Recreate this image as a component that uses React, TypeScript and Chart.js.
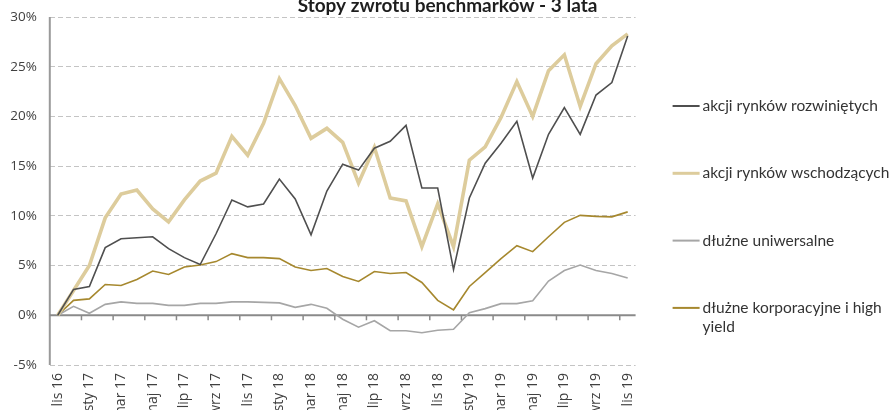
import React, { useEffect, useRef } from "react";
import { Chart, registerables } from "chart.js";

Chart.register(...registerables);

const monthNames = ["sty", "lut", "mar", "kwi", "maj", "cze", "lip", "sie", "wrz", "paź", "lis", "gru"];
const categories: string[] = [];
for (let k = 0; k < 37; k++) {
  const m = (10 + k) % 12;
  const y = 16 + Math.floor((10 + k) / 12);
  categories.push(`${monthNames[m]} ${y}`);
}

const title = "Stopy zwrotu benchmarków - 3 lata";
const seriesNames = [
  "akcji rynków rozwiniętych",
  "akcji rynków wschodzących",
  "dłużne uniwersalne",
  "dłużne korporacyjne i high yield",
];

const developed = [0, 2.6, 2.9, 6.8, 7.7, 7.8, 7.9, 6.7, 5.8, 5.1, 8.2, 11.6, 10.9, 11.2, 13.7, 11.7, 8.1, 12.5, 15.2, 14.6, 16.8, 17.5, 19.1, 12.8, 12.8, 4.6, 11.8, 15.3, 17.3, 19.5, 13.8, 18.2, 20.9, 18.2, 22.15, 23.4, 28.1];
const emerging = [0, 2.5, 5.0, 9.8, 12.2, 12.6, 10.7, 9.4, 11.6, 13.5, 14.3, 18.0, 16.1, 19.3, 23.8, 21.1, 17.8, 18.8, 17.4, 13.3, 16.9, 11.8, 11.5, 6.9, 11.2, 6.9, 15.6, 16.95, 19.9, 23.5, 20.0, 24.6, 26.2, 21.0, 25.3, 27.1, 28.3];
const universal = [0, 0.9, 0.2, 1.1, 1.35, 1.2, 1.2, 1.0, 1.0, 1.2, 1.2, 1.35, 1.35, 1.3, 1.25, 0.8, 1.1, 0.7, -0.4, -1.2, -0.55, -1.55, -1.55, -1.75, -1.5, -1.4, 0.27, 0.67, 1.17, 1.17, 1.45, 3.45, 4.5, 5.05, 4.5, 4.2, 3.75];
const corporate = [0, 1.5, 1.65, 3.1, 3.0, 3.6, 4.45, 4.1, 4.85, 5.05, 5.4, 6.2, 5.8, 5.8, 5.7, 4.85, 4.5, 4.7, 3.9, 3.4, 4.4, 4.2, 4.3, 3.3, 1.5, 0.55, 2.9, 4.3, 5.7, 7.0, 6.4, 7.9, 9.35, 10.05, 9.95, 9.9, 10.4];

const yTicks = [-5, 0, 5, 10, 15, 20, 25, 30];

const colors = ["#4f4f4f", "#ddcc9c", "#a6a6a6", "#a6882e"];
const widths = [1.6, 3.6, 1.6, 1.6];
const legendWidths = [2, 3, 2, 2];

const FONT = "Lato, 'Noto Sans', sans-serif";
const TICK_FONT = "'Open Sans', 'Noto Sans', sans-serif";

const decorPlugin = {
  id: "decor",
  beforeDatasetsDraw(chart: any) {
    const { ctx, chartArea, scales } = chart;
    const y0 = scales.y.getPixelForValue(0);
    ctx.save();
    ctx.strokeStyle = "#9a9a9a";
    ctx.lineWidth = 2;
    ctx.beginPath();
    ctx.moveTo(chartArea.left, chartArea.top);
    ctx.lineTo(chartArea.left, chartArea.bottom);
    ctx.stroke();
    ctx.strokeStyle = "#8a8a8a";
    ctx.lineWidth = 2;
    ctx.beginPath();
    ctx.moveTo(chartArea.left, y0);
    ctx.lineTo(chartArea.right, y0);
    ctx.stroke();
    ctx.lineWidth = 1.5;
    const n = chart.data.labels.length;
    for (let i = 2; i < n; i += 2) {
      const x = (scales.x.getPixelForValue(i - 1) + scales.x.getPixelForValue(i)) / 2;
      ctx.beginPath();
      ctx.moveTo(x, y0);
      ctx.lineTo(x, y0 + 5);
      ctx.stroke();
    }
    ctx.restore();
  },
  afterDraw(chart: any) {
    const { ctx, chartArea } = chart;
    ctx.save();
    ctx.fillStyle = "#1e1e1e";
    ctx.font = `bold 19px ${FONT}`;
    ctx.textAlign = "center";
    ctx.textBaseline = "alphabetic";
    ctx.fillText(title, chart.width / 2 + 2, 31.5);
    const lx0 = chartArea.right + 37;
    const lx1 = lx0 + 27;
    const tx = lx1 + 3;
    ctx.font = `15.5px ${FONT}`;
    ctx.textAlign = "left";
    ctx.textBaseline = "middle";
    chart.data.datasets.forEach((ds: any, i: number) => {
      const yc = chartArea.top + 89 + i * 67.3;
      ctx.strokeStyle = ds.borderColor;
      ctx.lineWidth = legendWidths[i];
      ctx.beginPath();
      ctx.moveTo(lx0, yc);
      ctx.lineTo(lx1, yc);
      ctx.stroke();
      ctx.fillStyle = "#333333";
      const words = String(ds.label).split(" ");
      const lines: string[] = [];
      let cur = "";
      for (const w of words) {
        const test = cur ? cur + " " + w : w;
        if (cur && ctx.measureText(test).width > 192) {
          lines.push(cur);
          cur = w;
        } else cur = test;
      }
      lines.push(cur);
      lines.forEach((ln, k) => ctx.fillText(ln, tx, yc + k * 19));
    });
    ctx.restore();
  },
};

export default function App() {
  const ref = useRef<HTMLCanvasElement | null>(null);
  useEffect(() => {
    if (!ref.current) return;
    const chart = new Chart(ref.current, {
      type: "line",
      data: {
        labels: categories,
        datasets: [developed, emerging, universal, corporate].map((d, i) => ({
          label: seriesNames[i],
          data: d,
          borderColor: colors[i],
          backgroundColor: colors[i],
          borderWidth: widths[i],
          pointRadius: 0,
          tension: 0,
          fill: false,
        })),
      },
      options: {
        responsive: false,
        animation: false,
        events: [],
        layout: { padding: { top: 37, left: 0, right: 255.4, bottom: 0 } },
        plugins: {
          legend: { display: false },
          title: { display: false },
          tooltip: { enabled: false },
        },
        scales: {
          x: {
            offset: true,
            grid: { display: false, drawTicks: false },
            border: { display: false },
            ticks: {
              autoSkip: false,
              minRotation: 90,
              maxRotation: 90,
              padding: 8,
              color: "#404040",
              font: { family: TICK_FONT, size: 14 },
              callback: (_v: any, idx: number) => (idx % 2 === 0 ? categories[idx] : null),
            },
            afterFit: (scale: any) => {
              scale.height = 65;
            },
          },
          y: {
            min: -5,
            max: 30,
            afterBuildTicks: (scale: any) => {
              scale.ticks = yTicks.map((v) => ({ value: v }));
            },
            grid: {
              drawTicks: false,
              color: (c: any) => (c.tick && c.tick.value === 0 ? "rgba(0,0,0,0)" : "#c4c4c4"),
              lineWidth: 1,
            },
            border: { display: false, dash: [5, 3] },
            ticks: {
              padding: 13,
              color: "#404040",
              font: { family: TICK_FONT, size: 13.5 },
              callback: (v: any) => `${v}%`,
            },
            afterFit: (scale: any) => {
              scale.width = 49.8;
            },
          },
        },
      },
      plugins: [decorPlugin],
    });
    return () => chart.destroy();
  }, []);
  return (
    <div style={{ position: "fixed", left: 0, top: 0, width: 891, height: 410, overflow: "hidden", background: "#fff" }}>
      <canvas ref={ref} width={891} height={450} style={{ display: "block", marginTop: -20, width: 891, height: 450 }} />
    </div>
  );
}
